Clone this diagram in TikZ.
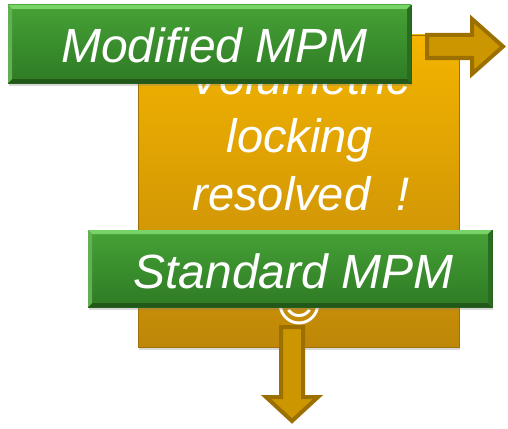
\documentclass[tikz,border=0pt]{standalone}
\usepackage{fontspec}
\setmainfont{Liberation Sans}
\newfontfamily\symfont{DejaVu Sans}
\usetikzlibrary{shadows}
\definecolor{gtop}{HTML}{46A236}
\definecolor{gbot}{HTML}{2E7A24}
\definecolor{gdark}{HTML}{26601C}
\definecolor{ghi}{HTML}{78D466}
\definecolor{glo}{HTML}{22591A}
\definecolor{otop}{HTML}{F4B400}
\definecolor{obot}{HTML}{BE8708}
\definecolor{odark}{HTML}{9E7206}
\definecolor{afill}{HTML}{CC9600}
\definecolor{aline}{HTML}{9C7000}
\begin{document}
\begin{tikzpicture}[x=1pt,y=1pt,
  greenbox/.style={draw=gdark, line width=0.6pt, top color=gtop, bottom color=gbot,
    drop shadow={opacity=0.3, shadow xshift=1pt, shadow yshift=-3pt},
    inner sep=0pt, outer sep=0pt},
  orangebox/.style={draw=odark, line width=0.6pt, top color=otop, bottom color=obot,
    drop shadow={opacity=0.3, shadow xshift=1pt, shadow yshift=-3pt},
    inner sep=0pt, outer sep=0pt},
  boxtext/.style={text=white, font=\fontsize{48}{48}\selectfont\itshape, inner sep=0pt, anchor=base},
  bodytext/.style={text=white, font=\fontsize{47}{47}\selectfont\itshape, inner sep=0pt, anchor=base},
  blockarrow/.style={fill=afill, draw=aline, line width=4pt, line join=miter}
]
\useasboundingbox (0,0) rectangle (508,-428);

% orange box
\node[orangebox, minimum width=321pt, minimum height=312pt] (vol) at (298.5,-191) {};
\node[bodytext] (t1) at (300,-94) {Volumetric};
\node[bodytext] (t2) at (300,-152) {locking};
\node[bodytext] (t3) at (301,-210) {resolved\ \ !};
\node[text=white, font=\fontsize{46}{46}\selectfont\symfont, inner sep=0pt, anchor=center] (smile) at (299,-305) {☺};

% green box: Modified MPM
\node[greenbox, minimum width=403pt, minimum height=78pt] (mod) at (209.5,-44) {};
\fill[ghi] (mod.north west) -- (mod.north east) -- ([shift={(-4,-4)}]mod.north east) -- ([shift={(4,-4)}]mod.north west) -- cycle;
\fill[glo] (mod.south west) -- (mod.south east) -- ([shift={(-4,4)}]mod.south east) -- ([shift={(4,4)}]mod.south west) -- cycle;
\fill[gtop!85!white] (mod.north west) -- ([shift={(4,-4)}]mod.north west) -- ([shift={(4,4)}]mod.south west) -- (mod.south west) -- cycle;
\fill[gbot!90!black] (mod.north east) -- ([shift={(-4,-4)}]mod.north east) -- ([shift={(-4,4)}]mod.south east) -- (mod.south east) -- cycle;
\node[boxtext] (modt) at (214.5,-63) {Modified MPM};

% green box: Standard MPM
\node[greenbox, minimum width=404pt, minimum height=77pt] (std) at (290,-268.5) {};
\fill[ghi] (std.north west) -- (std.north east) -- ([shift={(-4,-4)}]std.north east) -- ([shift={(4,-4)}]std.north west) -- cycle;
\fill[glo] (std.south west) -- (std.south east) -- ([shift={(-4,4)}]std.south east) -- ([shift={(4,4)}]std.south west) -- cycle;
\fill[gtop!85!white] (std.north west) -- ([shift={(4,-4)}]std.north west) -- ([shift={(4,4)}]std.south west) -- (std.south west) -- cycle;
\fill[gbot!90!black] (std.north east) -- ([shift={(-4,-4)}]std.north east) -- ([shift={(-4,4)}]std.south east) -- (std.south east) -- cycle;
\node[boxtext] (stdt) at (293.5,-288) {Standard MPM};

% block arrows
\draw[blockarrow] (427,-35) -- (472,-35) -- (472,-19) -- (503,-46.5) -- (472,-74) -- (472,-58) -- (427,-58) -- cycle;
\draw[blockarrow] (281,-327) -- (303,-327) -- (303,-397) -- (318,-397) -- (292,-421) -- (266,-397) -- (281,-397) -- cycle;
\end{tikzpicture}
\end{document}
